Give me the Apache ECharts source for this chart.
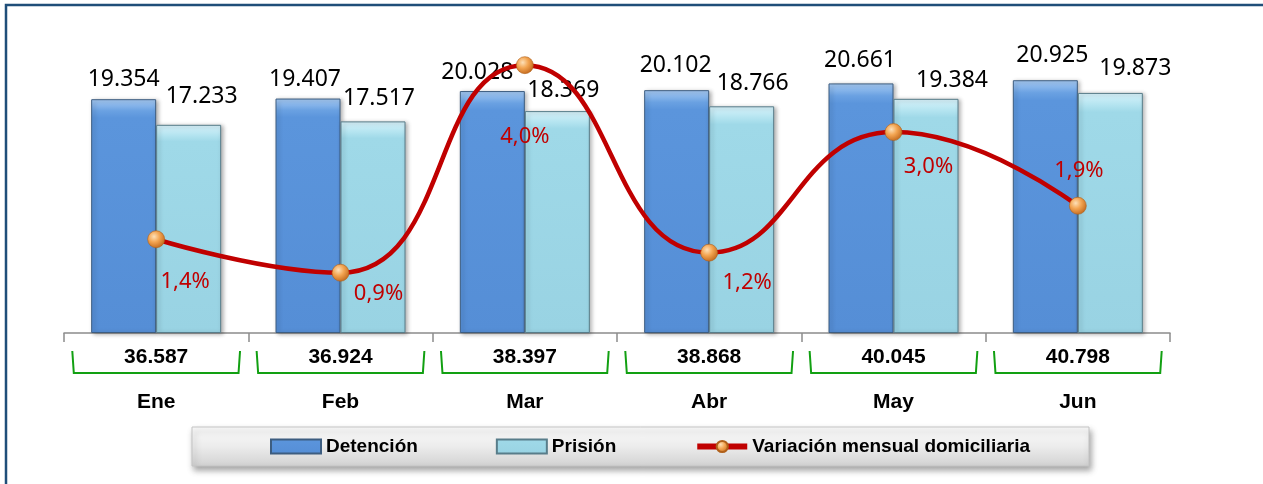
<!DOCTYPE html>
<html>
<head>
<meta charset="utf-8">
<script src="https://cdn.jsdelivr.net/npm/echarts@6/dist/echarts.min.js"></script>
<style>
html,body{margin:0;padding:0;background:#fff;}
#chart{width:1263px;height:484px;}
</style>
</head>
<body>
<div id="chart"></div>
<script>
// ---- data ----
const months = ['Ene', 'Feb', 'Mar', 'Abr', 'May', 'Jun'];
const detencion = [19354, 19407, 20028, 20102, 20661, 20925];
const prision = [17233, 17517, 18369, 18766, 19384, 19873];
const totals = [36587, 36924, 38397, 38868, 40045, 40798];
const variacion = [1.4, 0.9, 4.0, 1.2, 3.0, 1.9];

// ---- styling: label nudges as placed in the original ----
const pctLabelOffsets = [[29, 42], [38, 21], [0, 72], [38, 30], [35, 35], [1, -35]];
const detLabelOffsets = [[0, 0], [-3, 0], [-15, 1], [-1, -5], [-1, -3], [7, -5]];
const prisLabelOffsets = [[13, -9], [6, -3], [6, -1], [11, -3], [26, 1], [25, -5]];

function fmtThousands(v) {
  return String(v).replace(/\B(?=(\d{3})+(?!\d))/g, '.');
}
function fmtPct(v) {
  return v.toFixed(1).replace('.', ',') + '%';
}

const chart = echarts.init(document.getElementById('chart'), null, {renderer: 'canvas'});

const blueFill = new echarts.graphic.LinearGradient(0, 0, 0, 1, [
  {offset: 0, color: '#a7cbf4'},
  {offset: 0.05, color: '#6aa1e2'},
  {offset: 0.08, color: '#5b95dc'},
  {offset: 1, color: '#558ed6'}
]);
const cyanFill = new echarts.graphic.LinearGradient(0, 0, 0, 1, [
  {offset: 0, color: '#d8f3fb'},
  {offset: 0.05, color: '#b4e4f0'},
  {offset: 0.08, color: '#9fd9e8'},
  {offset: 1, color: '#99d3e3'}
]);
const orangeBall = new echarts.graphic.RadialGradient(0.38, 0.35, 0.7, [
  {offset: 0, color: '#fde0b8'},
  {offset: 0.45, color: '#f3a552'},
  {offset: 1, color: '#c0661a'}
]);

const barLabel = {
  show: true,
  position: 'top',
  distance: 8,
  formatter: p => fmtThousands(p.value),
  fontFamily: 'Noto Sans',
  fontSize: 23,
  color: '#000'
};

const option = {
  animation: false,
  backgroundColor: '#ffffff',
  graphic: [{
    type: 'polyline',
    shape: {points: [[6, 484], [6, 5], [1263, 5]]},
    style: {stroke: '#1f4e79', lineWidth: 2.5, fill: null},
    silent: true
  }],
  grid: {left: 64, right: 93, top: 33, bottom: 151, containLabel: false},
  legend: {
    left: 192,
    top: 427,
    padding: [10, 59, 10, 78],
    itemGap: 78,
    itemWidth: 50,
    itemHeight: 14,
    backgroundColor: new echarts.graphic.LinearGradient(0, 0, 0, 1, [
      {offset: 0, color: '#fbfbfb'},
      {offset: 0.5, color: '#ececec'},
      {offset: 1, color: '#d2d2d2'}
    ]),
    borderColor: '#c4c4c4',
    borderWidth: 1,
    shadowColor: 'rgba(0,0,0,0.35)',
    shadowBlur: 6,
    shadowOffsetX: 2,
    shadowOffsetY: 4,
    textStyle: {fontFamily: 'Liberation Sans', fontWeight: 'bold', fontSize: 19, color: '#000'},
    data: [
      {name: 'Detención', icon: 'rect'},
      {name: 'Prisión', icon: 'rect'},
      {name: 'Variación mensual domiciliaria', lineStyle: {width: 6, color: '#c00000'}}
    ]
  },
  xAxis: {
    type: 'category',
    data: months,
    boundaryGap: true,
    axisLine: {lineStyle: {color: '#8c8c8c', width: 1.5}},
    axisTick: {show: true, interval: 0, length: 9, lineStyle: {color: '#8c8c8c', width: 1.5}},
    axisLabel: {
      interval: 0,
      margin: 59,
      fontFamily: 'Liberation Sans',
      fontWeight: 'bold',
      fontSize: 21,
      color: '#000'
    }
  },
  yAxis: [
    {type: 'value', min: 0, max: 24834, show: false, splitLine: {show: false}},
    {type: 'value', min: 0, max: 4.48, show: false, splitLine: {show: false}}
  ],
  series: [
    {
      name: 'Detención',
      type: 'bar',
      data: detencion.map((v, i) => ({value: v, label: {offset: detLabelOffsets[i]}})),
      barWidth: 65,
      barGap: '0%',
      itemStyle: {
        color: blueFill,
        borderColor: '#3d5d80',
        borderWidth: 1,
        shadowColor: 'rgba(0,0,0,0.3)',
        shadowBlur: 4,
        shadowOffsetX: 2,
        shadowOffsetY: 1
      },
      label: barLabel,
      z: 2
    },
    {
      name: 'Prisión',
      type: 'bar',
      data: prision.map((v, i) => ({value: v, label: {offset: prisLabelOffsets[i]}})),
      barWidth: 65,
      barGap: '0%',
      itemStyle: {
        color: cyanFill,
        borderColor: '#587d8a',
        borderWidth: 1,
        shadowColor: 'rgba(0,0,0,0.3)',
        shadowBlur: 4,
        shadowOffsetX: 2,
        shadowOffsetY: 1
      },
      label: barLabel,
      z: 2
    },
    {
      name: 'Variación mensual domiciliaria',
      type: 'line',
      yAxisIndex: 1,
      smooth: 0.5,
      data: variacion.map((v, i) => ({
        value: v,
        label: {offset: pctLabelOffsets[i]}
      })),
      symbol: 'circle',
      symbolSize: 17,
      lineStyle: {color: '#c00000', width: 4.5},
      itemStyle: {color: orangeBall, borderColor: '#b0601a', borderWidth: 0.6},
      label: {
        show: true,
        position: 'inside',
        formatter: p => fmtPct(p.value),
        fontFamily: 'Noto Sans',
        fontSize: 22,
        color: '#c00000'
      },
      z: 5
    },
    {
      name: 'totales',
      type: 'custom',
      clip: false,
      silent: true,
      data: totals.map((t, i) => [i, t]),
      encode: {x: 0, y: 1},
      renderItem: function (params, api) {
        const c = api.coord([api.value(0), 0]);
        const bw = api.size([1, 0])[0];
        const hw = bw * 0.455;
        const y0 = c[1] + 18, y1 = c[1] + 40;
        return {
          type: 'group',
          children: [
            {
              type: 'polyline',
              shape: {points: [[c[0] - hw, y0], [c[0] - hw + 1.5, y1], [c[0] + hw - 1.5, y1], [c[0] + hw, y0]]},
              style: {stroke: '#12a012', lineWidth: 2, fill: null}
            },
            {
              type: 'text',
              x: c[0],
              y: c[1] + 24,
              style: {
                text: fmtThousands(api.value(1)),
                font: 'bold 21px "Liberation Sans"',
                fill: '#000',
                align: 'center',
                verticalAlign: 'middle'
              }
            }
          ]
        };
      },
      z: 3
    }
  ]
};

chart.setOption(option);
</script>
</body>
</html>
